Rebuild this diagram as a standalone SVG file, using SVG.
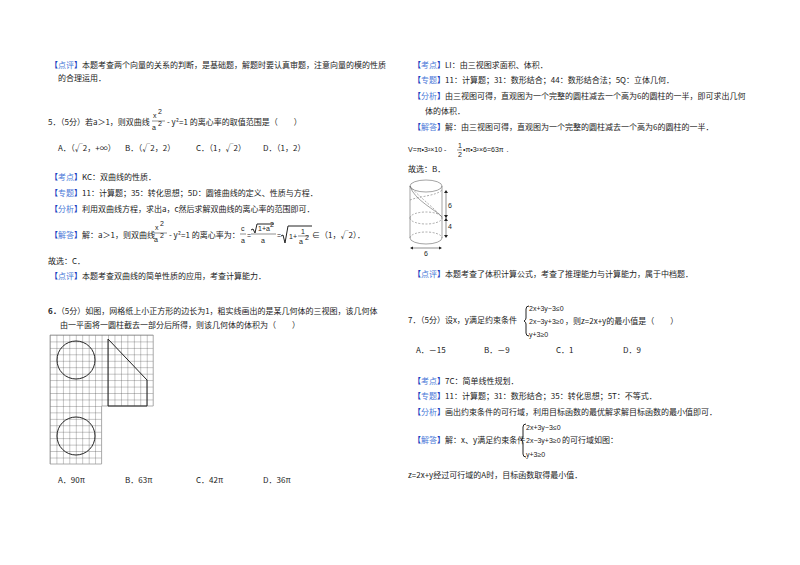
<svg xmlns="http://www.w3.org/2000/svg" width="800" height="565" viewBox="0 0 800 565">
<style>
text{font-family:"Noto Sans CJK SC","Liberation Sans",sans-serif;font-size:8px;fill:#222}
.t{fill:#4a78d8}.b{fill:#1a3fc0;font-weight:bold}
.m{font-family:"Liberation Sans",sans-serif;font-size:7px}
.k{stroke:#222;stroke-width:1;fill:none}
.d{stroke:#666;stroke-width:0.6;fill:none}
.dd{stroke:#777;stroke-width:0.6;fill:none;stroke-dasharray:2,1.5}
</style>
<defs>
<pattern id="grid" width="6.45" height="6.45" patternUnits="userSpaceOnUse" x="50" y="335">
<path d="M0 0H6.45M0 0V6.45" stroke="#444" stroke-width="0.6" fill="none"/>
</pattern>
</defs>
<rect width="800" height="565" fill="#fff"/>

<g id="left">
<text x="50" y="68"><tspan class="b">【</tspan><tspan class="t">点评</tspan><tspan class="b">】</tspan>本题考查两个向量的关系的判断，是基础题，解题时要认真审题，注意向量的模的性质</text>
<text x="58" y="81">的合理运用．</text>

<text x="48" y="125">5．（5分）若a＞1，则双曲线</text>
<text x="153" y="118" class="m">x</text><text x="158" y="114" class="m" font-size="5">2</text>
<line x1="152" y1="121" x2="165" y2="121" stroke="#222" stroke-width="0.5"/>
<text x="152" y="130" class="m">a</text><text x="158" y="126" class="m" font-size="5">2</text>
<text x="167" y="125">- y²=1 的离心率的取值范围是（　　）</text>

<text x="58" y="151">A．（√2，+∞）</text>
<text x="125" y="151">B．（√2，2）</text>
<text x="196" y="151">C．（1，√2）</text>
<text x="263" y="151">D．（1，2）</text>

<text x="50" y="180"><tspan class="b">【</tspan><tspan class="t">考点</tspan><tspan class="b">】</tspan>KC：双曲线的性质．</text>
<text x="50" y="196"><tspan class="b">【</tspan><tspan class="t">专题</tspan><tspan class="b">】</tspan>11：计算题；35：转化思想；5D：圆锥曲线的定义、性质与方程．</text>
<text x="50" y="212"><tspan class="b">【</tspan><tspan class="t">分析</tspan><tspan class="b">】</tspan>利用双曲线方程，求出a，c然后求解双曲线的离心率的范围即可．</text>

<text x="50" y="238"><tspan class="b">【</tspan><tspan class="t">解答</tspan><tspan class="b">】</tspan>解：a＞1，则双曲线</text>
<text x="155" y="230" class="m">x</text><text x="160" y="226" class="m" font-size="5">2</text>
<line x1="154" y1="233" x2="167" y2="233" stroke="#222" stroke-width="0.5"/>
<text x="154" y="242" class="m">a</text><text x="160" y="238" class="m" font-size="5">2</text>
<text x="169" y="238">- y²=1 的离心率为：</text>
<text x="241" y="231" class="m">c</text>
<line x1="240" y1="234" x2="246" y2="234" stroke="#222" stroke-width="0.5"/>
<text x="241" y="243" class="m">a</text>
<text x="247" y="238" class="m">=</text>
<path d="M251 230l2 -1 2 4 2 -9h17" class="k" stroke-width="0.5"/>
<text x="258" y="231" class="m">1+a</text><text x="270" y="227" class="m" font-size="5">2</text>
<line x1="251" y1="234" x2="276" y2="234" stroke="#222" stroke-width="0.5"/>
<text x="261" y="243" class="m">a</text>
<text x="277" y="238" class="m">=</text>
<path d="M281 236l2 -1 2 8 3 -17h24" class="k" stroke-width="0.5"/>
<text x="289" y="239" class="m">1+</text>
<text x="301" y="234" class="m">1</text>
<line x1="298" y1="236" x2="309" y2="236" stroke="#222" stroke-width="0.5"/>
<text x="299" y="244" class="m">a</text><text x="305" y="240" class="m" font-size="5">2</text>
<text x="312" y="238">∈（1，√2）．</text>

<text x="48" y="264">故选：C．</text>
<text x="50" y="279"><tspan class="b">【</tspan><tspan class="t">点评</tspan><tspan class="b">】</tspan>本题考查双曲线的简单性质的应用，考查计算能力．</text>

<text x="48" y="314"><tspan font-weight="bold">6．</tspan>（5分）如图，网格纸上小正方形的边长为1，粗实线画出的是某几何体的三视图，该几何体</text>
<text x="60" y="328">由一平面将一圆柱截去一部分后所得，则该几何体的体积为（　　）</text>
</g>

<g id="threeview">
<rect x="50" y="335" width="103.2" height="71" fill="url(#grid)"/>
<rect x="50" y="406" width="51.6" height="58" fill="url(#grid)"/>
<path d="M50 335H153.2V406H101.6V464H50Z" fill="none" stroke="#999" stroke-width="0.8"/>
<circle cx="76" cy="360" r="19" class="k"/>
<path d="M108 339L147 380V406H108Z" class="k"/>
<circle cx="76" cy="436" r="19" class="k"/>
</g>

<g id="opts6">
<text x="58" y="483">A．90π</text>
<text x="125" y="483">B．63π</text>
<text x="196" y="483">C．42π</text>
<text x="263" y="483">D．36π</text>
</g>

<g id="right">
<text x="413" y="68"><tspan class="b">【</tspan><tspan class="t">考点</tspan><tspan class="b">】</tspan>LI：由三视图求面积、体积．</text>
<text x="413" y="83"><tspan class="b">【</tspan><tspan class="t">专题</tspan><tspan class="b">】</tspan>11：计算题；31：数形结合；44：数形结合法；5Q：立体几何．</text>
<text x="413" y="99"><tspan class="b">【</tspan><tspan class="t">分析</tspan><tspan class="b">】</tspan>由三视图可得，直观图为一个完整的圆柱减去一个高为6的圆柱的一半，即可求出几何</text>
<text x="425" y="114">体的体积．</text>
<text x="413" y="130"><tspan class="b">【</tspan><tspan class="t">解答</tspan><tspan class="b">】</tspan>解：由三视图可得，直观图为一个完整的圆柱减去一个高为6的圆柱的一半．</text>
<text x="408" y="152" class="m">V=π•3²×10 -</text>
<text x="458" y="148" class="m">1</text>
<line x1="457" y1="150" x2="462" y2="150" stroke="#222" stroke-width="0.5"/>
<text x="458" y="157" class="m">2</text>
<text x="463" y="152" class="m">•π•3²×6=63π．</text>
<text x="408" y="172">故选：B．</text>
</g>

<g id="cylinder">
<ellipse cx="426" cy="186" rx="16" ry="6" class="d"/>
<line x1="410" y1="186" x2="410" y2="238" class="d"/>
<line x1="442" y1="186" x2="442" y2="238" class="d"/>
<path d="M410 238A16 6 0 0 0 442 238" class="d"/>
<path d="M410 238A16 6 0 0 1 442 238" class="dd"/>
<path d="M410 218A16 6 0 0 0 442 218" class="dd"/>
<path d="M410 218A16 6 0 0 1 442 218" class="dd"/>
<path d="M410 186C414 200 436 210 442 217" class="d"/>
<path d="M410 186C418 196 432 206 442 217" class="dd"/>
<path d="M410 200C420 196 436 196 442 190" class="dd"/>
<line x1="446" y1="191" x2="446" y2="237" stroke="#444" stroke-width="0.6"/>
<path d="M444 193L446 190 448 193ZM444 215L446 218 448 215ZM444 221L446 218 448 221ZM444 235L446 238 448 235Z" fill="#222"/>
<text x="448" y="208" class="m">6</text>
<text x="448" y="229" class="m">4</text>
<line x1="411" y1="248" x2="441" y2="248" stroke="#444" stroke-width="0.6"/>
<path d="M413 246.5L410 248 413 249.5ZM439 246.5L442 248 439 249.5Z" fill="#222"/>
<text x="424" y="256" class="m">6</text>
</g>

<g id="right2">
<text x="413" y="277"><tspan class="b">【</tspan><tspan class="t">点评</tspan><tspan class="b">】</tspan>本题考查了体积计算公式，考查了推理能力与计算能力，属于中档题．</text>

<text x="408" y="323">7．（5分）设x，y满足约束条件</text>
<path d="M529 306Q526 306 526 309V318Q526 320 524 321Q526 322 526 324V333Q526 336 529 336" class="k" stroke-width="0.6"/>
<text x="529" y="311" class="m">2x+3y−3≤0</text>
<text x="529" y="324" class="m">2x−3y+3≥0</text>
<text x="565" y="324">，则z=2x+y的最小值是（　　）</text>
<text x="529" y="337" class="m">y+3≥0</text>

<text x="416" y="353">A．－15</text>
<text x="484" y="353">B．－9</text>
<text x="556" y="353">C．1</text>
<text x="623" y="353">D．9</text>

<text x="413" y="384"><tspan class="b">【</tspan><tspan class="t">考点</tspan><tspan class="b">】</tspan>7C：简单线性规划．</text>
<text x="413" y="399"><tspan class="b">【</tspan><tspan class="t">专题</tspan><tspan class="b">】</tspan>11：计算题；31：数形结合；35：转化思想；5T：不等式．</text>
<text x="413" y="415"><tspan class="b">【</tspan><tspan class="t">分析</tspan><tspan class="b">】</tspan>画出约束条件的可行域，利用目标函数的最优解求解目标函数的最小值即可．</text>

<text x="413" y="443"><tspan class="b">【</tspan><tspan class="t">解答</tspan><tspan class="b">】</tspan>解：x、y满足约束条件</text>
<path d="M526 424Q523 424 523 427V437Q523 439 521 440Q523 441 523 443V454Q523 457 526 457" class="k" stroke-width="0.6"/>
<text x="526" y="430" class="m">2x+3y−3≤0</text>
<text x="526" y="443" class="m">2x−3y+3≥0</text>
<text x="562" y="443">的可行域如图：</text>
<text x="526" y="457" class="m">y+3≥0</text>

<text x="408" y="478">z=2x+y经过可行域的A时，目标函数取得最小值．</text>
</g>
</svg>
